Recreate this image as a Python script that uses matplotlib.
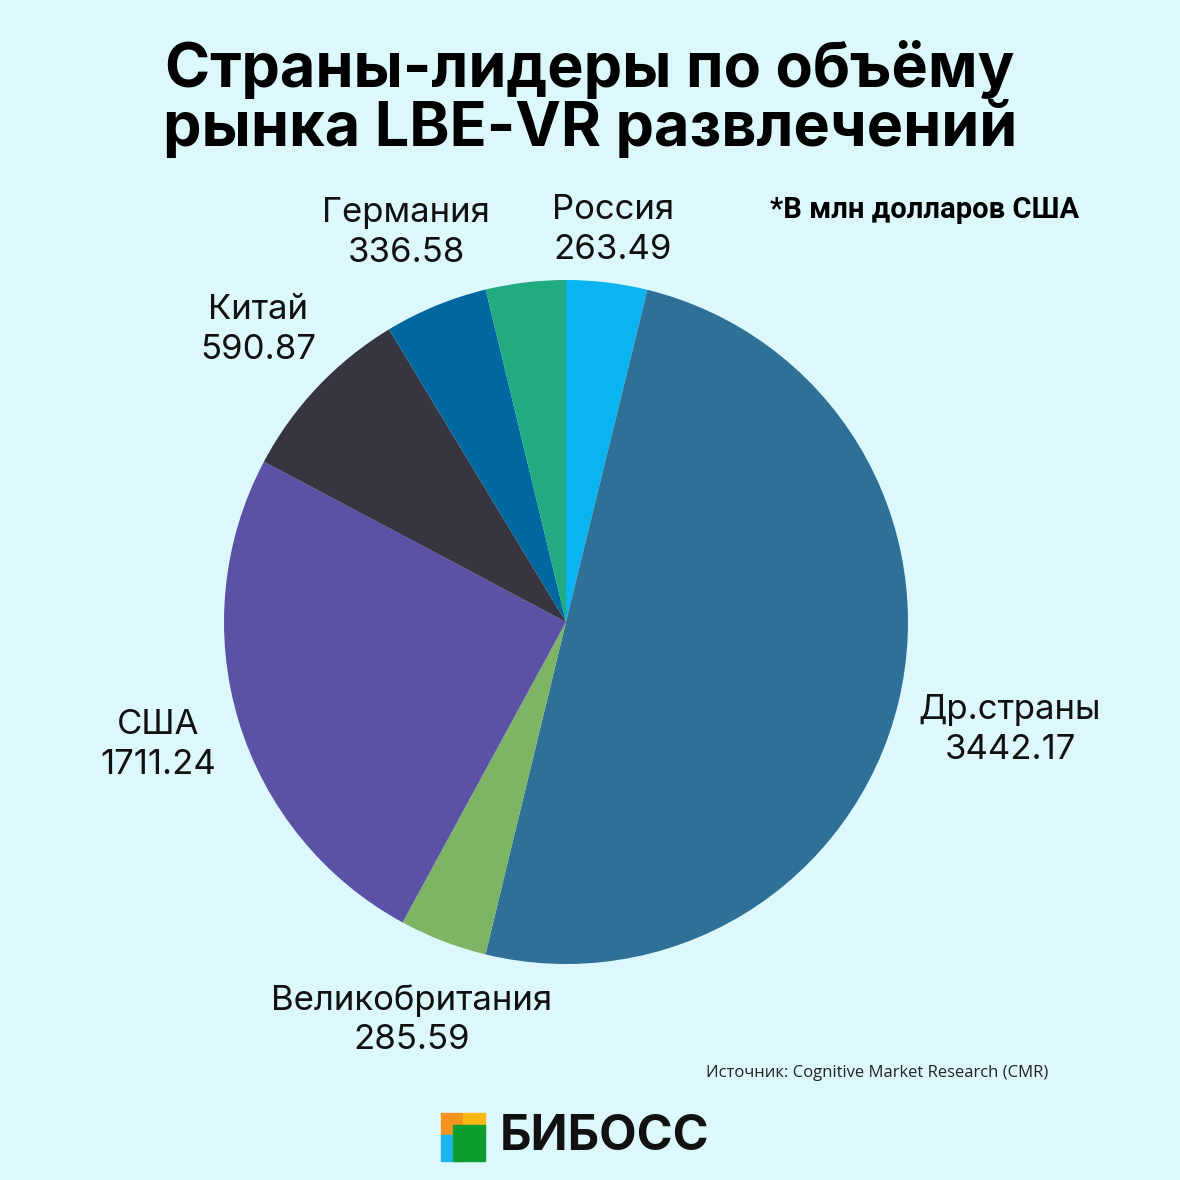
import matplotlib
matplotlib.use("Agg")
import matplotlib.pyplot as plt
from matplotlib.patches import Rectangle

plt.rcParams['font.family'] = ['Open Sans', 'DejaVu Sans']

# clockwise from top
countries = ["Россия", "Др.страны", "Великобритания", "США", "Китай", "Германия", ""]
values = [263.49, 3442.17, 285.59, 1711.24, 590.87, 336.58, 260.0]
colors = ["#0AB4F0", "#2E7096", "#7DB564", "#5B52A6", "#37353F", "#0068A0", "#22AA80"]
# label centres in pixels (x, y from top)
label_pos = [(613, 230), (1010, 730), (412, 1020), (158, 745), (258, 330), (406, 233), None]

BG = "#DDF8FD"
W = H = 1180

fig = plt.figure(figsize=(11.8, 11.8), dpi=100, facecolor=BG)

cx, cy, r = 566, 622, 342
ax = fig.add_axes([(cx - r) / W, 1 - (cy + r) / H, 2 * r / W, 2 * r / H])
ax.pie(values, colors=colors, startangle=90, counterclock=False, radius=1,
       wedgeprops=dict(linewidth=0))
ax.set_xlim(-1, 1)
ax.set_ylim(-1, 1)
ax.set_aspect("equal")
ax.axis("off")

for name, val, pos in zip(countries, values, label_pos):
    if pos is None:
        continue
    fig.text(pos[0] / W, 1 - pos[1] / H, f"{name}\n{val:.2f}", ha="center", va="center",
             fontsize=25, linespacing=1.3, color="#111111", family="Inter",
             fontweight="normal")

fig.text(590 / W, 1 - 100 / H, "Страны-лидеры по объёму\nрынка LBE-VR развлечений",
         ha="center", va="center", fontsize=44, fontweight="bold", linespacing=1.02,
         family="Inter")
fig.text(925 / W, 1 - 210 / H, "*В млн долларов США", ha="center", va="center",
         fontsize=21, fontweight="bold", family="Roboto")
fig.text(1048 / W, 1 - 1073 / H, "Источник: Cognitive Market Research (CMR)",
         ha="right", va="center", fontsize=12, color="#222222")

# logo
sq = [(441, 1113, 22, 22, "#F7931E"), (463, 1113, 22, 22, "#FDB913"),
      (441, 1135, 22, 26, "#1CB5EF"), (453, 1125, 32, 36, "#0D9E2F")]
for x, y, w, h, c in sq:
    fig.patches.append(Rectangle((x / W, 1 - (y + h) / H), w / W, h / H,
                                 transform=fig.transFigure, color=c))
fig.text(500 / W, 1 - 1137 / H, "БИБОСС", ha="left", va="center",
         fontsize=35, fontweight="bold", color="#111111", family="Inter")

fig.savefig("out.png", dpi=100, facecolor=BG)
